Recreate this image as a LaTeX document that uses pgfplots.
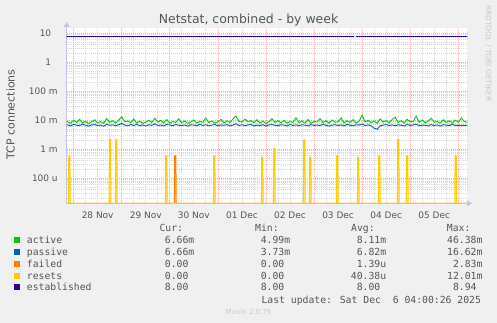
\documentclass[border=0pt]{standalone}
\usepackage{fontspec}
\setmainfont{DejaVu Sans}
\newfontfamily\monof{DejaVu Sans Mono}
\usepackage{pgfplots}
\pgfplotsset{compat=1.18}
\usepackage{pgfplotstable}
\usetikzlibrary{arrows.meta}
\definecolor{bgc}{HTML}{F0F0F0}
\definecolor{txt}{HTML}{555555}
\definecolor{activec}{HTML}{00CC00}
\definecolor{passivec}{HTML}{0066B3}
\definecolor{failedc}{HTML}{FF8000}
\definecolor{resetsc}{HTML}{FFCC00}
\definecolor{estc}{HTML}{330099}
\definecolor{axc}{HTML}{C4C4F0}
\definecolor{mgrid}{HTML}{EBB0B0}
\definecolor{ngrid}{HTML}{D8D8D8}
\definecolor{wm}{HTML}{C8C8C8}

% k = sample index (1 sample = 1.5 h, k=0 is 28 Nov 00:00)
\pgfplotstableread{
k a p
-3 8.2e-3 6.6e-3
-2 9.0e-3 7.0e-3
-1 7.8e-3 6.4e-3
0 10.1e-3 7.2e-3
1 8.4e-3 6.8e-3
2 10.8e-3 6.5e-3
3 8.0e-3 7.4e-3
4 9.2e-3 6.7e-3
5 7.6e-3 6.3e-3
6 8.8e-3 6.9e-3
7 10.4e-3 7.1e-3
8 8.1e-3 6.6e-3
9 9.0e-3 6.8e-3
10 7.9e-3 6.2e-3
11 11.5e-3 7.3e-3
12 8.4e-3 6.7e-3
13 9.6e-3 6.9e-3
14 8.0e-3 6.5e-3
15 10.2e-3 7.0e-3
16 13.2e-3 7.8e-3
17 8.9e-3 6.8e-3
18 9.4e-3 6.4e-3
19 8.2e-3 7.1e-3
20 11.0e-3 6.6e-3
21 8.0e-3 7.2e-3
22 9.2e-3 6.5e-3
23 7.8e-3 6.9e-3
24 8.6e-3 6.3e-3
25 10.1e-3 7.0e-3
26 8.3e-3 6.7e-3
27 11.8e-3 7.5e-3
28 8.8e-3 6.6e-3
29 9.9e-3 6.8e-3
30 8.1e-3 6.4e-3
31 10.6e-3 7.1e-3
32 7.9e-3 6.9e-3
33 9.0e-3 6.5e-3
34 8.4e-3 7.2e-3
35 11.2e-3 6.7e-3
36 8.2e-3 6.6e-3
37 9.5e-3 6.9e-3
38 7.8e-3 6.3e-3
39 8.7e-3 7.0e-3
40 10.3e-3 6.8e-3
41 8.0e-3 6.5e-3
42 9.1e-3 7.3e-3
43 8.5e-3 6.6e-3
44 12.0e-3 7.0e-3
45 8.3e-3 6.4e-3
46 9.4e-3 6.8e-3
47 7.9e-3 7.2e-3
48 8.8e-3 6.5e-3
49 10.7e-3 6.9e-3
50 8.1e-3 6.7e-3
51 9.6e-3 7.1e-3
52 8.4e-3 6.4e-3
53 11.0e-3 6.8e-3
54 14.0e-3 7.6e-3
55 9.2e-3 6.6e-3
56 8.6e-3 7.0e-3
57 10.9e-3 6.5e-3
58 8.9e-3 6.9e-3
59 9.8e-3 7.2e-3
60 8.2e-3 6.4e-3
61 10.4e-3 6.8e-3
62 8.0e-3 6.6e-3
63 9.3e-3 7.0e-3
64 7.7e-3 6.3e-3
65 8.9e-3 6.9e-3
66 11.3e-3 7.1e-3
67 8.4e-3 6.7e-3
68 9.7e-3 6.5e-3
69 8.1e-3 7.0e-3
70 10.0e-3 6.8e-3
71 7.9e-3 6.4e-3
72 9.0e-3 7.2e-3
73 8.5e-3 6.6e-3
74 12.3e-3 6.9e-3
75 8.2e-3 6.5e-3
76 9.4e-3 7.0e-3
77 8.0e-3 6.8e-3
78 10.6e-3 6.4e-3
79 7.8e-3 7.1e-3
80 9.1e-3 6.6e-3
81 8.7e-3 6.9e-3
82 11.4e-3 6.5e-3
83 8.3e-3 7.3e-3
84 9.5e-3 6.7e-3
85 7.9e-3 6.3e-3
86 10.2e-3 6.8e-3
87 8.6e-3 7.0e-3
88 9.0e-3 6.6e-3
89 12.1e-3 6.9e-3
90 8.1e-3 6.4e-3
91 9.7e-3 7.2e-3
92 8.4e-3 6.7e-3
93 10.5e-3 6.5e-3
94 8.0e-3 7.0e-3
95 9.3e-3 6.8e-3
96 15.0e-3 7.4e-3
97 8.8e-3 6.6e-3
98 10.0e-3 6.9e-3
99 8.2e-3 6.4e-3
100 9.4e-3 5.3e-3
101 7.9e-3 4.9e-3
102 11.1e-3 6.5e-3
103 8.5e-3 6.8e-3
104 9.8e-3 7.1e-3
105 8.1e-3 6.6e-3
106 10.7e-3 6.9e-3
107 12.6e-3 6.5e-3
108 8.3e-3 7.0e-3
109 9.6e-3 6.7e-3
110 8.0e-3 6.4e-3
111 10.9e-3 7.2e-3
112 8.7e-3 6.6e-3
113 9.2e-3 6.9e-3
114 14.0e-3 7.3e-3
115 8.4e-3 6.5e-3
116 10.3e-3 6.8e-3
117 8.1e-3 6.7e-3
118 9.5e-3 6.4e-3
119 11.6e-3 7.1e-3
120 8.6e-3 6.6e-3
121 9.0e-3 6.9e-3
122 7.9e-3 6.3e-3
123 10.4e-3 7.0e-3
124 8.3e-3 6.8e-3
125 9.7e-3 6.5e-3
126 8.0e-3 7.2e-3
127 10.1e-3 6.6e-3
128 8.5e-3 6.7e-3
129 12.0e-3 6.6e-3
130 9.1e-3 6.7e-3
131 8.4e-3 6.6e-3
}\nettab

\begin{document}
\begin{tikzpicture}
\fill[bgc] (0,0) rectangle (497bp,323bp);
\useasboundingbox (0,0) rectangle (497bp,323bp);
\begin{axis}[
  at={(66.7bp,119.7bp)}, anchor=south west,
  scale only axis, width=400.3bp, height=175.3bp,
  xmin=-2.296, xmax=130.89,
  ymode=log, ymin=1.37e-5, ymax=15.2,
  axis background/.style={fill=white},
  axis x line=bottom, axis y line=left,
  x axis line style={draw=axc, line width=1bp, -{Triangle[length=5bp,width=6bp]}, shorten >=-5bp},
  y axis line style={draw=axc, line width=1bp, -{Triangle[length=5bp,width=6bp]}, shorten >=-6bp},
  tick style={draw=none},
  xtick={8,24,40,56,72,88,104,120},
  xticklabels={28 Nov,29 Nov,30 Nov,01 Dec,02 Dec,03 Dec,04 Dec,05 Dec},
  minor xtick={-4,0,...,132},
  extra x ticks={0,16,32,48,64,80,96,112,128},
  extra x tick labels={},
  extra x tick style={grid=major},
  ytick={1e-4,1e-3,1e-2,1e-1,1,10},
  yticklabels={100 u,1 m,10 m,100 m,1\kern6.5bp,10\kern6.5bp},
  minor ytick={2e-5,3e-5,4e-5,5e-5,6e-5,7e-5,8e-5,9e-5,
    2e-4,3e-4,4e-4,5e-4,6e-4,7e-4,8e-4,9e-4,
    2e-3,3e-3,4e-3,5e-3,6e-3,7e-3,8e-3,9e-3,
    2e-2,3e-2,4e-2,5e-2,6e-2,7e-2,8e-2,9e-2,
    0.2,0.3,0.4,0.5,0.6,0.7,0.8,0.9,
    2,3,4,5,6,7,8,9},
  ymajorgrids, yminorgrids, xminorgrids,
  major grid style={draw=mgrid, dash pattern=on 1bp off 1bp, line width=0.7bp},
  minor grid style={draw=ngrid, dash pattern=on 1bp off 1bp, line width=0.7bp},
  tick label style={font=\fontsize{9}{10}\selectfont, text=txt},
  xticklabel style={anchor=north, inner sep=0pt, yshift=-6bp},
  yticklabel style={anchor=east, inner sep=0pt, xshift=-6.7bp},
  unbounded coords=jump,
]
\addplot[activec, line width=0.9bp] table[x=k, y=a] {\nettab};
\addplot[passivec, line width=0.9bp] table[x=k, y=p] {\nettab};
% failed
\addplot[failedc, line width=1bp, fill=failedc!45] coordinates {
  (-3,1.37e-5) (33.55,1.37e-5) (33.65,0.59e-3) (34.03,0.59e-3) (34.13,1.37e-5) (132,1.37e-5)};
% resets
\addplot[resetsc, line width=1bp, fill=resetsc!45] coordinates {
  (-3,1.37e-5)
  (-1.71,1.37e-5) (-1.61,0.59e-3) (-1.23,0.59e-3) (-1.13,1.37e-5)
  (11.82,1.37e-5) (11.92,2.2e-3) (12.30,2.2e-3) (12.40,1.37e-5)
  (13.92,1.37e-5) (14.02,2.2e-3) (14.40,2.2e-3) (14.50,1.37e-5)
  (30.56,1.37e-5) (30.66,0.59e-3) (31.04,0.59e-3) (31.14,1.37e-5)
  (46.53,1.37e-5) (46.63,0.59e-3) (47.01,0.59e-3) (47.11,1.37e-5)
  (62.49,1.37e-5) (62.59,0.53e-3) (62.97,0.53e-3) (63.07,1.37e-5)
  (66.48,1.37e-5) (66.58,1.08e-3) (66.96,1.08e-3) (67.06,1.37e-5)
  (76.46,1.37e-5) (76.56,2.1e-3) (76.94,2.1e-3) (77.04,1.37e-5)
  (78.46,1.37e-5) (78.56,0.53e-3) (78.94,0.53e-3) (79.04,1.37e-5)
  (87.44,1.37e-5) (87.54,0.59e-3) (87.92,0.59e-3) (88.02,1.37e-5)
  (94.43,1.37e-5) (94.53,0.53e-3) (94.91,0.53e-3) (95.01,1.37e-5)
  (101.42,1.37e-5) (101.52,0.59e-3) (101.90,0.59e-3) (102.00,1.37e-5)
  (107.74,1.37e-5) (107.84,2.2e-3) (108.22,2.2e-3) (108.32,1.37e-5)
  (110.73,1.37e-5) (110.83,0.59e-3) (111.21,0.59e-3) (111.31,1.37e-5)
  (126.83,1.37e-5) (126.93,0.59e-3) (127.31,0.59e-3) (127.41,1.37e-5)
  (132,1.37e-5)};
% established
\addplot[estc, line width=1bp] coordinates {
  (-3,8) (93.3,8) (93.6,nan) (94.0,8) (132,8)};
\end{axis}

% title and labels
\node[anchor=base, text=txt, font=\fontsize{12.5}{14}\selectfont] at (248.5bp,299bp) {Netstat, combined - by week};
\node[rotate=90, inner sep=0pt, text=txt, font=\fontsize{11}{12}\selectfont] at (10.5bp,208.5bp) {TCP connections};
\node[rotate=-90, inner sep=0pt, text=wm, font=\fontsize{7.5}{8}\selectfont] at (488.3bp,269.7bp) {RRDTOOL / TOBI OETIKER};

% legend
\begin{scope}[every node/.style={inner sep=0pt, text=txt, font=\monof\fontsize{9.8}{11}\selectfont}]
\node[anchor=base west] at (159.3bp,91bp) {Cur:};
\node[anchor=base west] at (255bp,91bp) {Min:};
\node[anchor=base west] at (351bp,91bp) {Avg:};
\node[anchor=base west] at (446.7bp,91bp) {Max:};

\fill[activec] (14bp,79.7bp) rectangle (20bp,85.7bp);
\node[anchor=base west] at (26.7bp,79.2bp) {active};
\node[anchor=base east] at (194.5bp,79.2bp) {6.66m};
\node[anchor=base east] at (290.4bp,79.2bp) {4.99m};
\node[anchor=base east] at (386.4bp,79.2bp) {8.11m};
\node[anchor=base east] at (482.7bp,79.2bp) {46.38m};

\fill[passivec] (14bp,68bp) rectangle (20bp,74bp);
\node[anchor=base west] at (26.7bp,67.5bp) {passive};
\node[anchor=base east] at (194.5bp,67.5bp) {6.66m};
\node[anchor=base east] at (290.4bp,67.5bp) {3.73m};
\node[anchor=base east] at (386.4bp,67.5bp) {6.82m};
\node[anchor=base east] at (482.7bp,67.5bp) {16.62m};

\fill[failedc] (14bp,56.2bp) rectangle (20bp,62.2bp);
\node[anchor=base west] at (26.7bp,55.7bp) {failed};
\node[anchor=base east] at (194.5bp,55.7bp) {0.00\phantom{m}};
\node[anchor=base east] at (290.4bp,55.7bp) {0.00\phantom{m}};
\node[anchor=base east] at (386.4bp,55.7bp) {1.39u};
\node[anchor=base east] at (482.7bp,55.7bp) {2.83m};

\fill[resetsc] (14bp,44.4bp) rectangle (20bp,50.4bp);
\node[anchor=base west] at (26.7bp,43.9bp) {resets};
\node[anchor=base east] at (194.5bp,43.9bp) {0.00\phantom{m}};
\node[anchor=base east] at (290.4bp,43.9bp) {0.00\phantom{m}};
\node[anchor=base east] at (386.4bp,43.9bp) {40.38u};
\node[anchor=base east] at (482.7bp,43.9bp) {12.01m};

\fill[estc] (14bp,32.6bp) rectangle (20bp,38.6bp);
\node[anchor=base west] at (26.7bp,32.1bp) {established};
\node[anchor=base east] at (194.5bp,32.1bp) {8.00\phantom{m}};
\node[anchor=base east] at (290.4bp,32.1bp) {8.00\phantom{m}};
\node[anchor=base east] at (386.4bp,32.1bp) {8.00\phantom{m}};
\node[anchor=base east] at (482.7bp,32.1bp) {8.94\phantom{m}};

\node[anchor=base west] at (261.3bp,19.5bp) {Last update: Sat Dec\ \ 6 04:00:26 2025};
\end{scope}
\node[anchor=base, inner sep=0pt, text=wm, font=\fontsize{7}{8}\selectfont] at (248.5bp,8.8bp) {Munin 2.0.75};
\end{tikzpicture}
\end{document}
